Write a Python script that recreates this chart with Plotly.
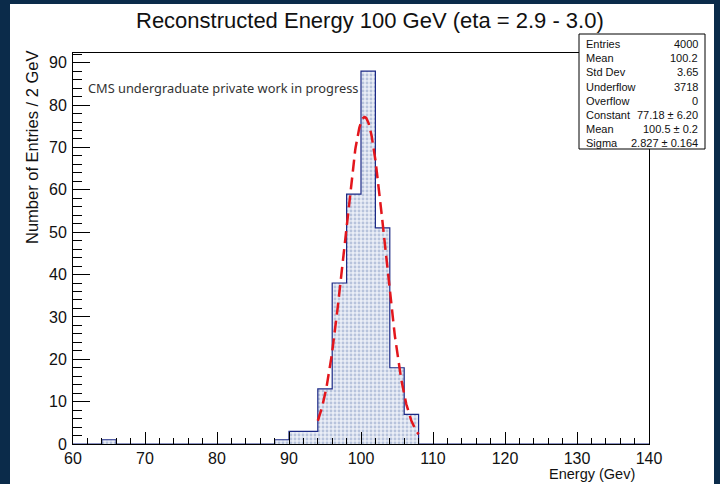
import numpy as np
import plotly.graph_objects as go

# ---------------- data ----------------
bin_low = [64, 88, 90, 92, 94, 96, 98, 100, 102, 104, 106]
bin_counts = [1, 1, 3, 3, 13, 38, 59, 88, 51, 18, 7]
bin_width = 2
x_min, x_max = 60, 140
y_max = 92.3

fit_constant = 77.18
fit_mean = 100.5
fit_sigma = 2.827
fit_lo, fit_hi = 94, 108

x_ticks = [60, 70, 80, 90, 100, 110, 120, 130, 140]
y_ticks = [0, 10, 20, 30, 40, 50, 60, 70, 80, 90]

stats_labels = ["Entries", "Mean", "Std Dev", "Underflow", "Overflow", "Constant", "Mean", "Sigma"]
stats_values = ["4000", "100.2", "3.65", "3718", "0", "77.18 \u00b1 6.20", "100.5 \u00b1 0.2", "2.827 \u00b1 0.164"]

title_text = "Reconstructed Energy 100 GeV (eta = 2.9 - 3.0)"
x_title = "Energy (Gev)"
y_title = "Number of Entries / 2 GeV"
note_text = "CMS undergraduate private work in progress"

# ---------------- geometry (pixels) ----------------
W_FIG, H_FIG = 720, 484
L, R, T, B = 73, 649, 53, 444
PW, PH = R - L, B - T


def px(x):
    return (x - L) / PW


def py(y):
    return (B - y) / PH


# histogram as step outline
edges = np.arange(x_min, x_max + bin_width, bin_width)
counts = np.zeros(len(edges) - 1)
for lo, c in zip(bin_low, bin_counts):
    counts[int((lo - x_min) // bin_width)] = c
step_x = list(edges)
step_y = list(counts) + [0]

# fit curve from the fit parameters
fx = np.linspace(fit_lo, fit_hi, 300)
fy = fit_constant * np.exp(-0.5 * ((fx - fit_mean) / fit_sigma) ** 2)

fig = go.Figure()
fig.add_trace(go.Scatter(
    x=step_x, y=step_y, mode="lines", line_shape="hv",
    line=dict(color="#1c2a86", width=1.2),
    fill="tozeroy",
    fillpattern=dict(shape=".", fgcolor="#8497c2", bgcolor="#eaeef6", size=4, solidity=0.4),
    hoverinfo="skip", showlegend=False,
))
fig.add_trace(go.Scatter(
    x=fx, y=fy, mode="lines",
    line=dict(color="#e3161c", width=2.5, dash="12px,6px"),
    hoverinfo="skip", showlegend=False,
))

tick_font = dict(family="Liberation Sans, Arial, sans-serif", size=16, color="#111")
fig.update_xaxes(
    range=[x_min, x_max], tickvals=x_ticks, ticks="inside", ticklen=12, tickwidth=1,
    tickcolor="black", linecolor="black", linewidth=1, mirror=True, showgrid=False,
    zeroline=False, tickfont=tick_font, ticklabelstandoff=0,
    minor=dict(dtick=2, ticks="inside", ticklen=6, tickcolor="black", showgrid=False),
)
fig.update_yaxes(
    range=[0, y_max], tickvals=y_ticks, ticks="inside", ticklen=17, tickwidth=1,
    tickcolor="black", linecolor="black", linewidth=1, mirror=True, showgrid=False,
    zeroline=False, tickfont=tick_font, ticklabelstandoff=2,
    minor=dict(dtick=2, ticks="inside", ticklen=9, tickcolor="black", showgrid=False),
)

annotations = []
shapes = []
# title
annotations.append(dict(text=title_text, xref="paper", yref="paper", x=px(370), y=py(20),
                        xanchor="center", yanchor="middle", showarrow=False,
                        font=dict(family="Liberation Sans, Arial, sans-serif", size=22, color="#111")))
# axis titles
annotations.append(dict(text=x_title, xref="paper", yref="paper", x=px(637), y=py(474),
                        xanchor="right", yanchor="middle", showarrow=False,
                        font=dict(family="Liberation Sans, Arial, sans-serif", size=14.5, color="#111")))
annotations.append(dict(text=y_title, xref="paper", yref="paper", x=px(32), y=py(48),
                        xanchor="center", yanchor="top", textangle=-90, showarrow=False,
                        font=dict(family="Liberation Sans, Arial, sans-serif", size=16.5, color="#111")))
# note
annotations.append(dict(text=note_text, xref="paper", yref="paper", x=px(86), y=py(88),
                        xanchor="left", yanchor="middle", showarrow=False,
                        font=dict(family="Noto Sans, Open Sans, sans-serif", size=12.8, color="#333")))

# stats box
bx0, by0, bx1, by1 = 579, 34, 705, 149
shapes.append(dict(type="rect", xref="paper", yref="paper", x0=px(bx0), x1=px(bx1), y0=py(by1), y1=py(by0),
                   line=dict(color="black", width=1), fillcolor="white", layer="above"))
row0, drow = 44, 14.2
sfont = dict(family="Liberation Sans, Arial, sans-serif", size=11, color="#111")
for i, (lab, val) in enumerate(zip(stats_labels, stats_values)):
    yy = py(row0 + i * drow)
    annotations.append(dict(text=lab, xref="paper", yref="paper", x=px(584), y=yy, xanchor="left",
                            yanchor="middle", showarrow=False, font=sfont))
    annotations.append(dict(text=val, xref="paper", yref="paper", x=px(700), y=yy, xanchor="right",
                            yanchor="middle", showarrow=False, font=sfont))

# dark frame around the picture
navy = "#0b2b4a"
for (x0, y0, x1, y1) in [(0, 0, 10, 484), (0, 0, 720, 4), (714, 0, 720, 484)]:
    shapes.append(dict(type="rect", xref="paper", yref="paper", x0=px(x0), x1=px(x1), y0=py(y1), y1=py(y0),
                       line=dict(width=0), fillcolor=navy, layer="above"))

fig.update_layout(
    width=W_FIG, height=H_FIG,
    margin=dict(l=L, r=W_FIG - R, t=T, b=H_FIG - B),
    paper_bgcolor="white", plot_bgcolor="white",
    annotations=annotations, shapes=shapes,
)

fig.write_html(
    "out.html",
    config={"displayModeBar": False},
    post_script="document.documentElement.style.margin='0';document.body.style.margin='0';"
                "document.body.style.padding='0';document.body.style.overflow='hidden';",
)
